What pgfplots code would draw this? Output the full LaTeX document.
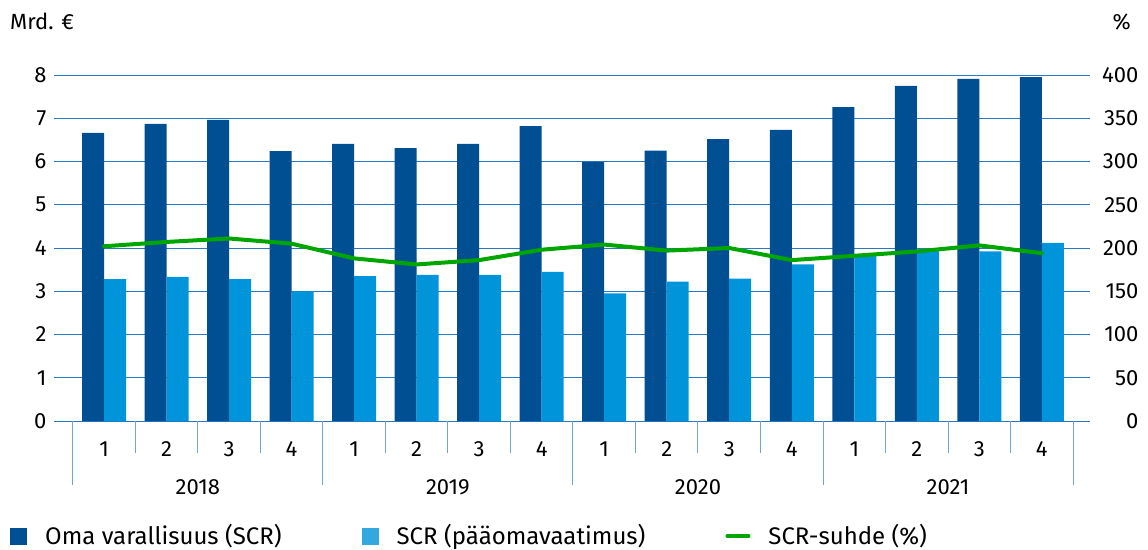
\documentclass[border=0pt]{standalone}
\usepackage{pgfplots}
\usepackage{pgfplotstable}
\pgfplotsset{compat=1.18}
\usepackage{fontspec}
\setmainfont{Fira Sans}
\definecolor{dblue}{RGB}{0,79,147}
\definecolor{lblue}{RGB}{0,148,218}
\definecolor{legblue}{RGB}{50,168,224}
\definecolor{sgreen}{RGB}{0,166,0}
\definecolor{gridblue}{RGB}{40,120,195}
\definecolor{tickblue}{RGB}{110,165,215}

\pgfplotstableread{
x own scr ratio
0 6.66 3.28 202
1 6.87 3.33 207
2 6.96 3.28 211
3 6.24 3.00 205
4 6.41 3.35 188
5 6.31 3.38 181
6 6.41 3.38 186
7 6.82 3.45 198
8 5.99 2.95 204
9 6.25 3.22 197
10 6.52 3.29 200
11 6.73 3.62 186
12 7.26 3.82 191
13 7.75 3.96 196
14 7.91 3.92 203
15 7.95 4.12 194
}\data

\begin{document}
\fontsize{22}{26}\selectfont
\begin{tikzpicture}
\path[use as bounding box] (0pt,0pt) rectangle (1148pt,-549pt);
\node[anchor=base west, inner sep=0] at (10pt,-29pt) {Mrd. €};
\node[anchor=base east, inner sep=0] at (1131pt,-29pt) {\%};
\begin{axis}[
  at={(54pt,-421pt)}, anchor=south west,
  scale only axis, width=1036pt, height=346pt,
  xmin=-0.80, xmax=15.77, ymin=0, ymax=8,
  axis line style={draw=none},
  ytick={0,1,...,8},
  xtick={0,1,...,15},
  xticklabels={1,2,3,4,1,2,3,4,1,2,3,4,1,2,3,4},
  major tick length=0pt,
  ymajorgrids,
  major grid style={gridblue, line width=1pt},
  /pgf/number format/assume math mode=true,
  ticklabel style={font=\fontsize{22}{26}\selectfont},
  xticklabel style={anchor=center, yshift=-28pt},
  ybar, bar width=22pt,
  clip=false,
  legend columns=3,
  legend style={draw=none, fill=none, at={(-47pt,-115pt)}, anchor=west,
    font=\fontsize{24}{28}\selectfont,
    /tikz/every odd column/.append style={column sep=16pt},
    /tikz/every even column/.append style={column sep=78pt}},
  legend image code/.code={\fill[#1] (0pt,-8.5pt) rectangle (17pt,8.5pt);},
]
\addplot[fill=dblue, draw=none, bar shift=-11pt] table[x=x, y=own] \data;
\addlegendentry{Oma varallisuus (SCR)}
\addplot[fill=lblue, draw=none, bar shift=11pt, forget plot] table[x=x, y=scr] \data;
\addlegendimage{fill=legblue, draw=none}
\addlegendentry{SCR (pääomavaatimus)}
\addlegendimage{legend image code/.code={\draw[sgreen, line width=4pt, line cap=round] (2pt,0pt) -- (23pt,0pt);}}
\addlegendentry{SCR-suhde (\%)}
\pgfplotsinvokeforeach{-0.5,0.5,1.5,2.5,4.5,5.5,6.5,8.5,9.5,10.5,12.5,13.5,14.5}{
  \draw[tickblue, line width=1pt] (axis cs:#1,0) -- ++(0pt,-32pt);
}
\pgfplotsinvokeforeach{-0.5,3.5,7.5,11.5,15.5}{
  \draw[tickblue, line width=1pt] (axis cs:#1,0) -- ++(0pt,-64pt);
}
\node at (axis cs:1.5,0) [yshift=-66pt] {2018};
\node at (axis cs:5.5,0) [yshift=-66pt] {2019};
\node at (axis cs:9.5,0) [yshift=-66pt] {2020};
\node at (axis cs:13.5,0) [yshift=-66pt] {2021};
\end{axis}
\begin{axis}[
  at={(54pt,-421pt)}, anchor=south west,
  scale only axis, width=1036pt, height=346pt,
  xmin=-0.80, xmax=15.77, ymin=0, ymax=400,
  axis line style={draw=none},
  hide x axis,
  axis y line*=right,
  ytick={0,50,...,400},
  major tick length=0pt,
  /pgf/number format/assume math mode=true,
  ticklabel style={font=\fontsize{22}{26}\selectfont},
  yticklabel style={anchor=east, xshift=56pt},
]
\addplot[sgreen, line width=4pt, line cap=round, line join=round] table[x=x, y=ratio] \data;
\end{axis}
\end{tikzpicture}
\end{document}
